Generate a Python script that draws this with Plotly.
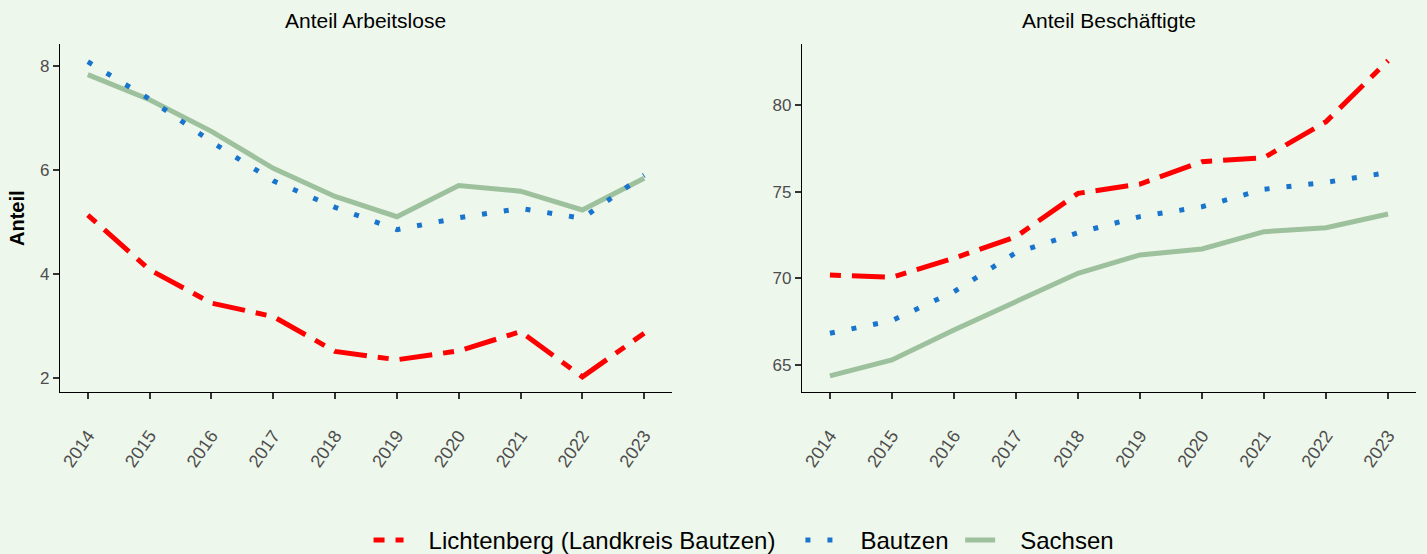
import plotly.graph_objects as go

years = [2014, 2015, 2016, 2017, 2018, 2019, 2020, 2021, 2022, 2023]
year_labels = [str(y) for y in years]

# Anteil Arbeitslose
al_lichtenberg = [5.13, 4.08, 3.44, 3.18, 2.51, 2.35, 2.52, 2.89, 2.02, 2.86]
al_bautzen = [8.08, 7.36, 6.54, 5.79, 5.28, 4.85, 5.08, 5.26, 5.07, 5.90]
al_sachsen = [7.83, 7.35, 6.74, 6.03, 5.49, 5.10, 5.70, 5.59, 5.23, 5.84]

# Anteil Beschäftigte
be_lichtenberg = [70.19, 70.06, 71.16, 72.40, 74.90, 75.44, 76.73, 76.96, 79.04, 82.56]
be_bautzen = [66.83, 67.56, 69.23, 71.48, 72.63, 73.56, 74.13, 75.14, 75.54, 76.10]
be_sachsen = [64.37, 65.29, 67.02, 68.65, 70.29, 71.35, 71.69, 72.69, 72.92, 73.71]

series_names = ["Lichtenberg (Landkreis Bautzen)", "Bautzen", "Sachsen"]
panel_titles = ["Anteil Arbeitslose", "Anteil Beschäftigte"]

BG = "#EEF7EC"
RED = "#FF0000"
BLUE = "#1874CD"
GREEN = "#9DC19D"
LW = 5

styles = {
    "Lichtenberg (Landkreis Bautzen)": dict(color=RED, width=LW, dash="11px,11px,33px,11px"),
    "Bautzen": dict(color=BLUE, width=LW, dash="5px,17px"),
    "Sachsen": dict(color=GREEN, width=LW, dash="solid"),
}

NB = "\u00a0"
legend_labels = {
    "Lichtenberg (Landkreis Bautzen)": NB * 3 + "Lichtenberg (Landkreis Bautzen)" + NB * 3,
    "Bautzen": NB * 3 + "Bautzen" + NB,
    "Sachsen": NB * 3 + "Sachsen",
}

fig = go.Figure()

panels = [
    ("x", "y", {"Lichtenberg (Landkreis Bautzen)": al_lichtenberg, "Bautzen": al_bautzen, "Sachsen": al_sachsen}),
    ("x2", "y2", {"Lichtenberg (Landkreis Bautzen)": be_lichtenberg, "Bautzen": be_bautzen, "Sachsen": be_sachsen}),
]

rank = {"Lichtenberg (Landkreis Bautzen)": 1, "Bautzen": 2, "Sachsen": 3}
for i, (xa, ya, data) in enumerate(panels):
    for name in ["Sachsen", "Bautzen", "Lichtenberg (Landkreis Bautzen)"]:
        fig.add_trace(go.Scatter(
            x=years, y=data[name], mode="lines", name=legend_labels[name],
            line=styles[name], xaxis=xa, yaxis=ya,
            showlegend=(i == 0), legendrank=rank[name],
            hoverinfo="skip",
        ))

tickfont_x = dict(family="Liberation Sans, Arial, sans-serif", size=18, color="#4D4D4D")
tickfont_y = dict(family="Liberation Sans, Arial, sans-serif", size=17, color="#4D4D4D")
common_x = dict(
    tickmode="array", tickvals=years, ticktext=year_labels, tickangle=-55,
    range=[2013.55, 2023.45], showline=True, linecolor="black", linewidth=1.2,
    ticks="outside", ticklen=6, tickwidth=1.5, tickcolor="#333333",
    showgrid=False, zeroline=False, tickfont=tickfont_x, ticklabelstandoff=19,
    automargin=False,
)
common_y = dict(
    showline=True, linecolor="black", linewidth=1.2,
    ticks="outside", ticklen=6, tickwidth=1.5, tickcolor="#333333",
    showgrid=False, zeroline=False, tickfont=tickfont_y, automargin=False,
)

fig.update_layout(
    width=1427, height=554,
    paper_bgcolor=BG, plot_bgcolor=BG,
    margin=dict(l=60, r=11, t=44, b=162),
    font=dict(family="Liberation Sans, Arial, sans-serif", color="black"),
    xaxis=dict(domain=[0, 0.4513], anchor="y", **common_x),
    xaxis2=dict(domain=[0.5472, 1.0], anchor="y2", **common_x),
    yaxis=dict(domain=[0, 1], anchor="x", range=[1.73, 8.42], tickvals=[2, 4, 6, 8], **common_y),
    yaxis2=dict(domain=[0, 1], anchor="x2", range=[63.44, 83.52], tickvals=[65, 70, 75, 80], **common_y),
    legend=dict(orientation="h", xref="container", yref="container",
                x=0.5214, xanchor="center", y=0.0245, yanchor="middle",
                font=dict(size=24, color="black"), bgcolor="rgba(0,0,0,0)"),
    showlegend=True,
)

fig.add_annotation(text=panel_titles[0], x=0.4513 / 2, y=1, xref="paper", yref="paper",
                   xanchor="center", yanchor="bottom", yshift=10, showarrow=False,
                   font=dict(size=21, color="black"))
fig.add_annotation(text=panel_titles[1], x=(0.5472 + 1) / 2, y=1, xref="paper", yref="paper",
                   xanchor="center", yanchor="bottom", yshift=10, showarrow=False,
                   font=dict(size=21, color="black"))
fig.add_annotation(text="<b>Anteil</b>", x=0, y=0.5, xref="paper", yref="paper",
                   xanchor="center", yanchor="middle", xshift=-43, textangle=-90,
                   showarrow=False, font=dict(size=20, color="black"))

fig.write_html("out.html", config={"displayModeBar": False},
               post_script="document.body.style.margin='0';document.body.style.overflow='hidden';")
